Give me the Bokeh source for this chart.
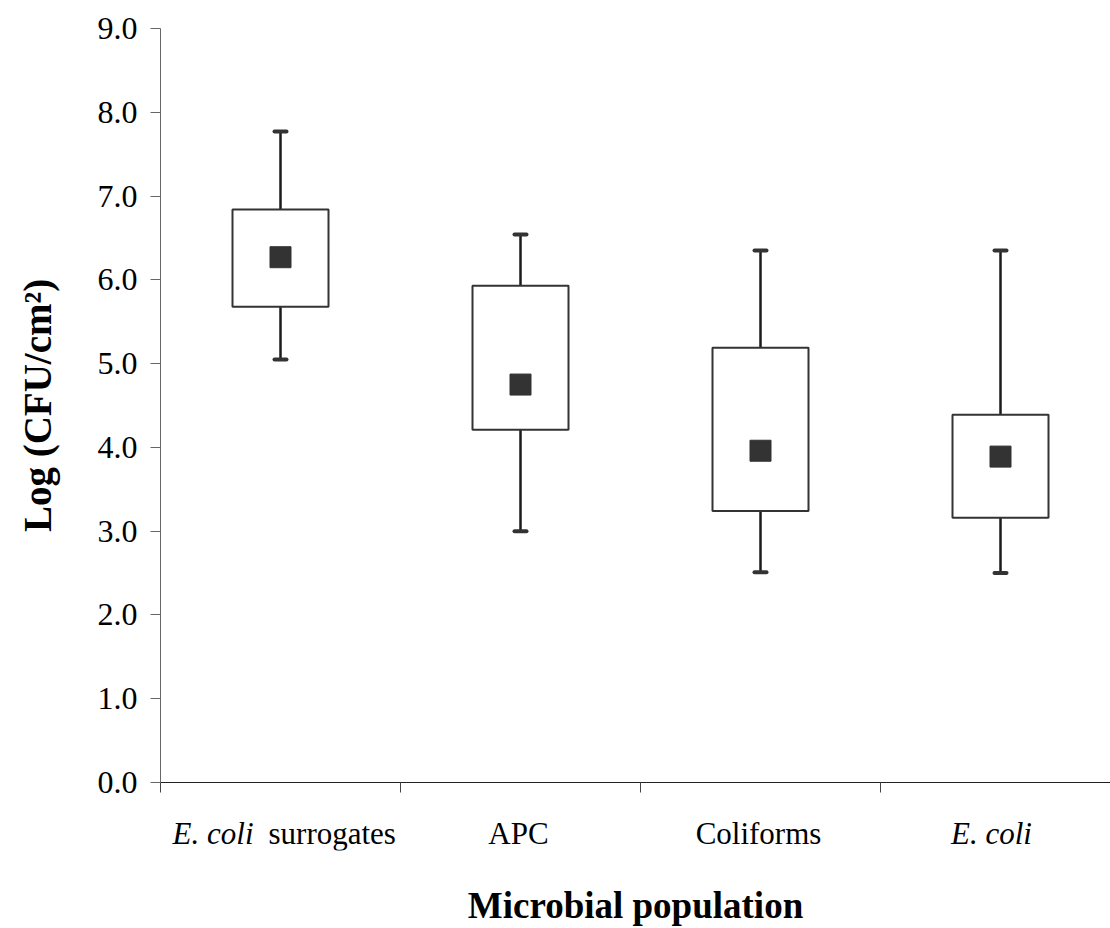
from bokeh.plotting import figure
from bokeh.layouts import column
from bokeh.models import Range1d, FixedTicker, NumeralTickFormatter, ColumnDataSource
from bokeh.core.properties import value
from bokeh.embed import file_html
from bokeh.resources import INLINE

# ---- data ----
categories = ["E. coli surrogates", "APC", "Coliforms", "E. coli"]
italic_part = ["E. coli", "", "", "E. coli"]
roman_part = ["surrogates", "APC", "Coliforms", ""]
whisker_low = [5.05, 3.00, 2.51, 2.50]
box_low = [5.68, 4.21, 3.24, 3.16]
means = [6.27, 4.75, 3.96, 3.89]
box_high = [6.84, 5.93, 5.19, 4.39]
whisker_high = [7.77, 6.54, 6.35, 6.35]
y_ticks = [0, 1, 2, 3, 4, 5, 6, 7, 8, 9]

SERIF = "Liberation Serif"
centers = [i + 0.5 for i in range(len(categories))]
bounds = [float(i) for i in range(len(categories) + 1)]
cap_half = 0.025

src = ColumnDataSource(dict(
    x=centers, wl=whisker_low, bl=box_low, m=means, bh=box_high, wh=whisker_high,
    cl=[c - cap_half for c in centers], cr=[c + cap_half for c in centers],
))

xr = Range1d(0, 950 / 240)

p = figure(width=1110, height=800, output_backend="svg", toolbar_location=None,
           x_range=xr, y_range=Range1d(0, 9),
           min_border_left=160, min_border_right=0, min_border_top=28, min_border_bottom=18)
p.outline_line_color = None
p.xgrid.visible = False
p.ygrid.visible = False
p.background_fill_color = "white"
p.border_fill_color = "white"

# whiskers
p.segment(x0="x", y0="bh", x1="x", y1="wh", source=src, line_color="#1a1a1a", line_width=2.5)
p.segment(x0="x", y0="wl", x1="x", y1="bl", source=src, line_color="#1a1a1a", line_width=2.5)
# caps
p.segment(x0="cl", y0="wh", x1="cr", y1="wh", source=src, line_color="#333333", line_width=4, line_cap="round")
p.segment(x0="cl", y0="wl", x1="cr", y1="wl", source=src, line_color="#333333", line_width=4, line_cap="round")
# boxes
p.vbar(x="x", bottom="bl", top="bh", width=0.4, source=src, fill_color="white",
       line_color="#333333", line_width=2)
# means
p.scatter(x="x", y="m", source=src, marker="square", size=21, fill_color="#333333", line_color="#333333")

# y axis
ya = p.yaxis[0]
ya.ticker = FixedTicker(ticks=y_ticks)
ya.formatter = NumeralTickFormatter(format="0.0")
ya.minor_tick_line_color = None
ya.major_tick_in = 0
ya.major_tick_out = 10
ya.axis_line_color = "#666666"
ya.major_tick_line_color = "#666666"
ya.major_label_text_font = SERIF
ya.major_label_text_font_size = "32px"
ya.major_label_text_color = "black"
ya.major_label_standoff = 13
ya.axis_label = "Log (CFU/cm²)"
ya.axis_label_text_font = SERIF
ya.axis_label_text_font_size = "39px"
ya.axis_label_text_font_style = "bold"
ya.axis_label_text_color = "black"
ya.axis_label_standoff = 36

# x axis: only boundary tick marks (as minor ticks), no labels
xa = p.xaxis[0]
xa.ticker = FixedTicker(ticks=[], minor_ticks=bounds)
xa.major_tick_line_color = None
xa.minor_tick_in = 0
xa.minor_tick_out = 10
xa.minor_tick_line_color = "#444444"
xa.minor_tick_line_width = 1
xa.axis_line_color = "#222222"

# ---- category labels + axis title panel ----
q = figure(width=1110, height=128, output_backend="svg", toolbar_location=None,
           x_range=xr, y_range=Range1d(50, 0), y_axis_location=None,
           min_border_left=160, min_border_right=0, min_border_top=0, min_border_bottom=78)
q.outline_line_color = None
q.xgrid.visible = False
q.ygrid.visible = False
q.background_fill_color = "white"
q.border_fill_color = "white"

label_base = [33] * len(categories)
it_src = ColumnDataSource(dict(x=centers, y=label_base, t=italic_part,
                               dx=[-27, 0, 0, -9]))
ro_src = ColumnDataSource(dict(x=centers, y=label_base, t=roman_part,
                               dx=[-12, -2, -2, 0]))
q.text(x="x", y="y", text="t", x_offset="dx", source=it_src, text_align="right",
       text_baseline="alphabetic", text_font=value(SERIF), text_font_size="31px",
       text_font_style="italic", text_color="black")
# last italic label is centered: re-anchor via separate glyph
q.renderers[-1].data_source.data["t"] = ["E. coli", "", "", ""]
it2_src = ColumnDataSource(dict(x=[centers[3]], y=[33], t=[italic_part[3]]))
q.text(x="x", y="y", text="t", x_offset=-9, source=it2_src, text_align="center",
       text_baseline="alphabetic", text_font=value(SERIF), text_font_size="31px",
       text_font_style="italic", text_color="black")
ro_src.data["t"] = ["surrogates", "", "", ""]
q.text(x="x", y="y", text="t", x_offset="dx", source=ro_src, text_align="left",
       text_baseline="alphabetic", text_font=value(SERIF), text_font_size="31px",
       text_font_style="normal", text_color="black")
rc_src = ColumnDataSource(dict(x=centers[1:3], y=[33, 33], t=roman_part[1:3]))
q.text(x="x", y="y", text="t", x_offset=-2, source=rc_src, text_align="center",
       text_baseline="alphabetic", text_font=value(SERIF), text_font_size="31px",
       text_font_style="normal", text_color="black")

qa = q.xaxis[0]
qa.ticker = FixedTicker(ticks=[])
qa.axis_line_color = None
qa.major_tick_line_color = None
qa.minor_tick_line_color = None
qa.axis_label = "Microbial population"
qa.axis_label_text_font = SERIF
qa.axis_label_text_font_size = "37px"
qa.axis_label_text_font_style = "bold"
qa.axis_label_text_color = "black"
qa.axis_label_standoff = 34

layout = column(p, q, spacing=0)
open("out.html", "w").write(file_html(layout, INLINE))
